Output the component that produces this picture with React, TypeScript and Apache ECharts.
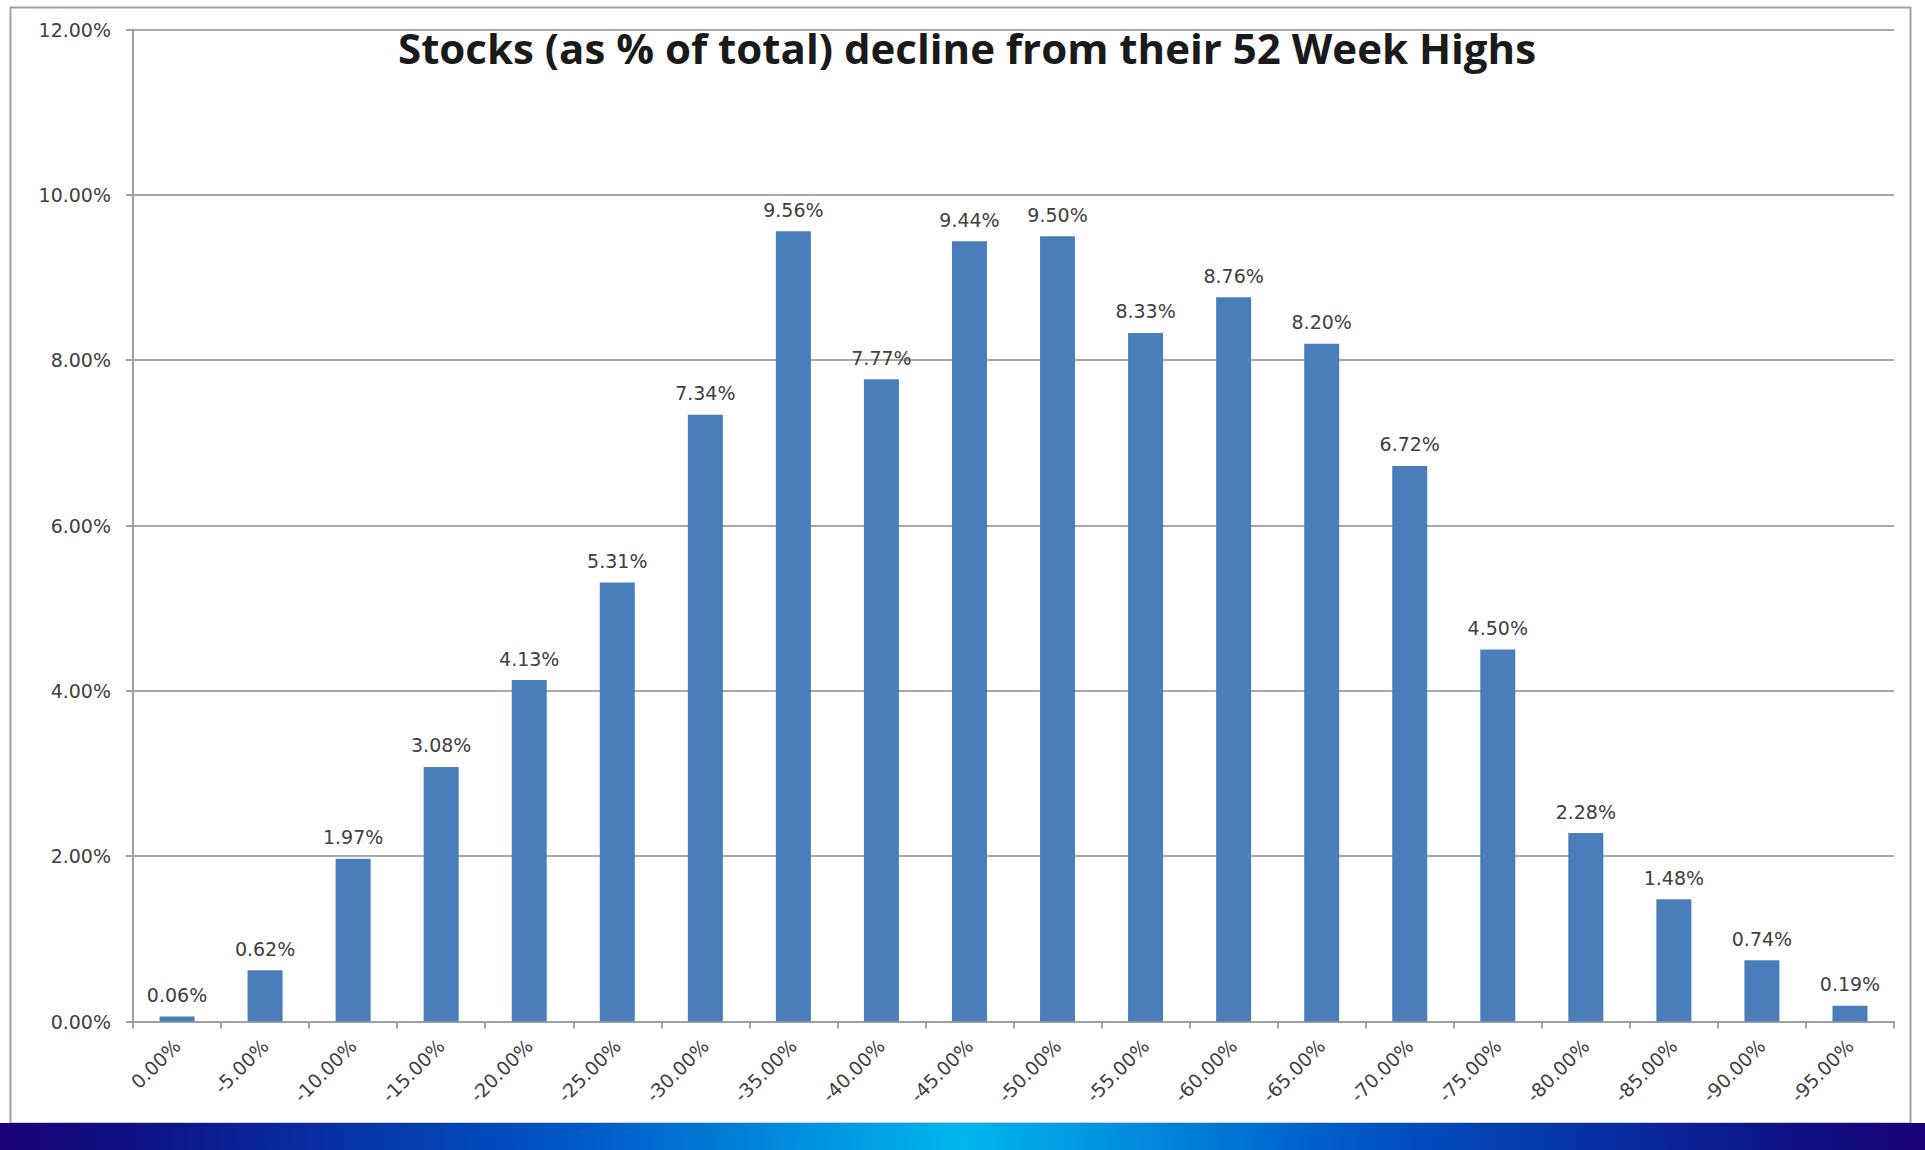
import React, { useEffect, useRef } from "react";
import * as echarts from "echarts";

const categories = [
  "0.00%", "-5.00%", "-10.00%", "-15.00%", "-20.00%", "-25.00%", "-30.00%",
  "-35.00%", "-40.00%", "-45.00%", "-50.00%", "-55.00%", "-60.00%", "-65.00%",
  "-70.00%", "-75.00%", "-80.00%", "-85.00%", "-90.00%", "-95.00%",
];
const shares = [
  0.06, 0.62, 1.97, 3.08, 4.13, 5.31, 7.34, 9.56, 7.77, 9.44, 9.5, 8.33, 8.76,
  8.2, 6.72, 4.5, 2.28, 1.48, 0.74, 0.19,
];
const yTicks = [0, 2, 4, 6, 8, 10, 12];
const titleText = "Stocks (as % of total) decline from their 52 Week Highs";

export default function App() {
  const ref = useRef<HTMLDivElement>(null);
  useEffect(() => {
    document.body.style.margin = "0";
    const chart = echarts.init(ref.current!, null, { renderer: "svg" });
    const font = "'DejaVu Sans', Verdana, sans-serif";
    chart.setOption({
      animation: false,
      backgroundColor: "#ffffff",
      title: {
        text: titleText,
        left: 393,
        top: 21,
        textStyle: {
          fontFamily: "'Open Sans', Lato, sans-serif",
          fontWeight: "bold",
          fontSize: 42,
          color: "#1a1a1a",
        },
      },
      grid: { left: 133, right: 31, top: 29.5, bottom: 128.5 },
      xAxis: {
        type: "category",
        data: categories,
        axisLine: { show: true, lineStyle: { color: "#a0a0a0", width: 2 } },
        axisTick: { show: true, length: 7, lineStyle: { color: "#a0a0a0", width: 2 } },
        axisLabel: {
          rotate: 45,
          margin: 21,
          interval: 0,
          fontFamily: font,
          fontSize: 19,
          color: "#404040",
        },
      },
      yAxis: {
        type: "value",
        min: yTicks[0],
        max: yTicks[yTicks.length - 1],
        interval: 2,
        axisLine: { show: true, lineStyle: { color: "#a0a0a0", width: 2 } },
        axisTick: { show: true, length: 7, lineStyle: { color: "#a0a0a0", width: 2 } },
        splitLine: { show: true, lineStyle: { color: "#a8a8a8", width: 2 } },
        axisLabel: {
          margin: 22,
          fontFamily: font,
          fontSize: 19,
          color: "#404040",
          formatter: (v: number) => v.toFixed(2) + "%",
        },
      },
      series: [
        {
          type: "bar",
          data: shares,
          barWidth: 35,
          itemStyle: { color: "#4a7ebb" },
          label: {
            show: true,
            position: "top",
            distance: 12,
            fontFamily: font,
            fontSize: 19,
            color: "#404040",
            formatter: (p: any) => Number(p.value).toFixed(2) + "%",
          },
        },
      ],
      graphic: [
        {
          type: "rect",
          left: 8,
          top: 5,
          shape: { width: 1900, height: 1116 },
          style: { fill: "none", stroke: "#a0a0a0", lineWidth: 2 },
          silent: true,
        },
        {
          type: "rect",
          left: 0,
          top: 1123,
          shape: { width: 1925, height: 27 },
          style: {
            fill: new echarts.graphic.LinearGradient(0, 0, 1, 0, [
              { offset: 0, color: "#1a0078" },
              { offset: 0.08, color: "#0c1488" },
              { offset: 0.3, color: "#0058c8" },
              { offset: 0.5, color: "#00b6ee" },
              { offset: 0.7, color: "#0058c8" },
              { offset: 0.92, color: "#0c1488" },
              { offset: 1, color: "#1a0078" },
            ]),
          },
          silent: true,
        },
      ],
    });
    return () => chart.dispose();
  }, []);
  return (
    <div
      ref={ref}
      style={{ position: "fixed", left: 0, top: 0, width: 1925, height: 1150 }}
    />
  );
}
